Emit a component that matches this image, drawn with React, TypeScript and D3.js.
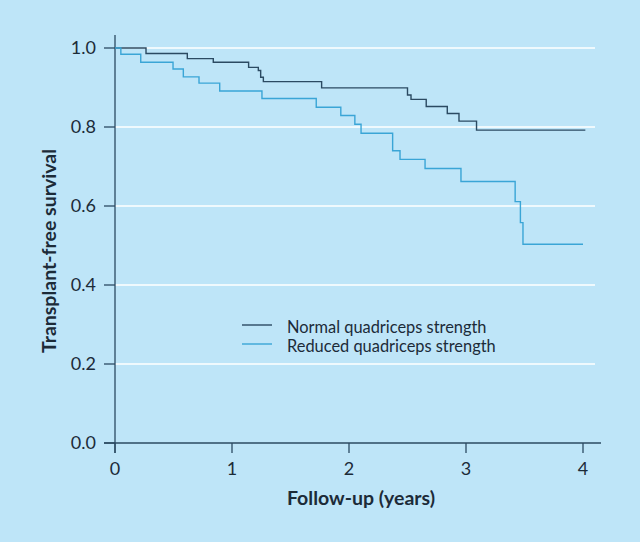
import React from "react";
import * as d3 from "d3";

const normalTimes = [0, 0.265, 0.618, 0.84, 1.142, 1.225, 1.245, 1.268, 1.766, 2.5, 2.53, 2.66, 2.84, 2.94, 3.09, 4.02];
const normalSurv = [1.0, 0.986, 0.973, 0.964, 0.951, 0.943, 0.926, 0.915, 0.899, 0.881, 0.87, 0.852, 0.834, 0.815, 0.792, 0.792];

const reducedTimes = [0, 0.05, 0.22, 0.496, 0.584, 0.718, 0.895, 1.256, 1.72, 1.93, 2.05, 2.103, 2.373, 2.436, 2.65, 2.957, 3.42, 3.465, 3.487, 4.0];
const reducedSurv = [1.0, 0.984, 0.964, 0.947, 0.927, 0.911, 0.891, 0.872, 0.85, 0.829, 0.807, 0.784, 0.74, 0.718, 0.695, 0.662, 0.611, 0.558, 0.503, 0.503];

const xTicks = [0, 1, 2, 3, 4];
const yTicks = [0, 0.2, 0.4, 0.6, 0.8, 1.0];
const seriesNames = ["Normal quadriceps strength", "Reduced quadriceps strength"];
const xLabel = "Follow-up (years)";
const yLabel = "Transplant-free survival";

const BG = "#bee5f8";
const DARK = "#2b4a62";
const LIGHT = "#3aa5d6";
const TEXT = "#1c2b38";
const FONT = "Lato, 'Open Sans', sans-serif";

export default function App() {
  const x = d3.scaleLinear().domain([0, 4]).range([115, 583]);
  const y = d3.scaleLinear().domain([0, 1]).range([443, 48]);
  const line = d3
    .line<[number, number]>()
    .x((d) => x(d[0]))
    .y((d) => y(d[1]))
    .curve(d3.curveStepAfter);
  const normal = normalTimes.map((t, i) => [t, normalSurv[i]] as [number, number]);
  const reduced = reducedTimes.map((t, i) => [t, reducedSurv[i]] as [number, number]);
  const x0 = x(0);
  const y0 = y(0);
  return (
    <div style={{ position: "fixed", left: 0, top: 0, width: 640, height: 542 }}>
      <svg width={640} height={542} style={{ display: "block" }} fontFamily={FONT}>
        <rect x={0} y={0} width={640} height={542} fill={BG} />
        {yTicks.filter((t) => t > 0).map((t) => (
          <line key={t} x1={x0} x2={595} y1={y(t)} y2={y(t)} stroke="#ffffff" strokeWidth={1.4} />
        ))}
        {/* axes */}
        <line x1={x0} x2={x0} y1={35} y2={y0 + 10} stroke={DARK} strokeWidth={1.3} />
        <line x1={x0 - 11} x2={601} y1={y0} y2={y0} stroke={DARK} strokeWidth={1.3} />
        {yTicks.map((t) => (
          <g key={t}>
            <line x1={x0 - 11} x2={x0} y1={y(t)} y2={y(t)} stroke={DARK} strokeWidth={1.3} />
            <text x={96} y={y(t)} dy="0.35em" textAnchor="end" fontSize={18} fill={TEXT}>
              {t.toFixed(1)}
            </text>
          </g>
        ))}
        {xTicks.map((t) => (
          <g key={t}>
            <line x1={x(t)} x2={x(t)} y1={y0} y2={y0 + 10} stroke={DARK} strokeWidth={1.3} />
            <text x={x(t)} y={469} dy="0.35em" textAnchor="middle" fontSize={18} fill={TEXT}>
              {t}
            </text>
          </g>
        ))}
        <text x={361} y={498} dy="0.35em" textAnchor="middle" fontSize={19.5} fontWeight="bold" fill={TEXT}>
          {xLabel}
        </text>
        <text
          transform={`translate(49,251) rotate(-90)`}
          dy="0.35em"
          textAnchor="middle"
          fontSize={19.5}
          fontWeight="bold"
          fill={TEXT}
        >
          {yLabel}
        </text>
        <path d={line(normal) || ""} fill="none" stroke={DARK} strokeWidth={1.4} />
        <path d={line(reduced) || ""} fill="none" stroke={LIGHT} strokeWidth={1.4} />
        {/* legend */}
        {seriesNames.map((name, i) => (
          <g key={name}>
            <line x1={242} x2={272} y1={325 + i * 19} y2={325 + i * 19} stroke={i === 0 ? DARK : LIGHT} strokeWidth={1.4} />
            <text x={287} y={333 + i * 19} fontSize={16.4} fill={TEXT}>
              {name}
            </text>
          </g>
        ))}
      </svg>
    </div>
  );
}
